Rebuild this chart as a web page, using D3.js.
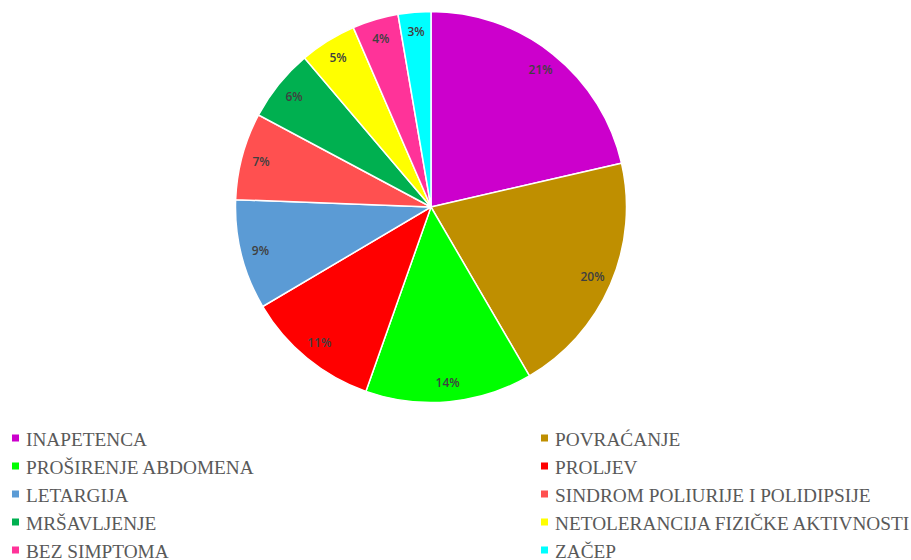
<!DOCTYPE html>
<html><head><meta charset="utf-8">
<script src="https://cdn.jsdelivr.net/npm/d3@7"></script>
<style>body{margin:0;background:#fff}</style>
</head><body>
<svg id="c" width="911" height="560"></svg>
<script>
const categories = ["INAPETENCA","POVRAĆANJE","PROŠIRENJE ABDOMENA","PROLJEV","LETARGIJA","SINDROM POLIURIJE I POLIDIPSIJE","MRŠAVLJENJE","NETOLERANCIJA FIZIČKE AKTIVNOSTI","BEZ SIMPTOMA","ZAČEP"];
const values = [21.4,20.2,13.8,11.1,9.1,7.2,6.0,4.7,3.8,2.7];
const colors = ["#CC00CC","#BF8F00","#00FF00","#FF0000","#5B9BD5","#FF5050","#00B050","#FFFF00","#FF3399","#00FFFF"];

const svg = d3.select("#c");
const cx = 431, cy = 207, r = 195.5;
const pie = d3.pie().sort(null).value(d=>d)(values);
const arc = d3.arc().innerRadius(0).outerRadius(r);
const lab = d3.arc().innerRadius(176).outerRadius(176);
const g = svg.append("g").attr("transform",`translate(${cx},${cy})`);
g.selectAll("path").data(pie).enter().append("path")
  .attr("d",arc).attr("fill",(d,i)=>colors[i]).attr("stroke","#fff").attr("stroke-width",1.5);
const total = d3.sum(values);
g.selectAll("text").data(pie).enter().append("text")
  .attr("transform",(d,i)=>{const p=lab.centroid(d);return `translate(${p[0]},${p[1]})`;})
  .attr("text-anchor","middle").attr("dominant-baseline","central")
  .style("font-family","'Open Sans',sans-serif").style("font-size","12px").style("font-weight","600")
  .attr("fill","#404040")
  .text(d=>Math.round(d.data/total*100)+"%");

const leg = svg.append("g");
const x0 = [12, 541], y0 = 438, dy = 28;
categories.forEach((c,i)=>{
  const col = i%2, row = Math.floor(i/2);
  const x = x0[col], y = y0 + row*dy;
  leg.append("rect").attr("x",x).attr("y",y-3.5).attr("width",7).attr("height",7).attr("fill",colors[i]);
  leg.append("text").attr("x",x+14).attr("y",y+1).attr("dominant-baseline","central")
    .style("font-family","'Liberation Serif',serif").style("font-size","19.3px").attr("fill","#595959").text(c);
});
</script>
</body></html>
